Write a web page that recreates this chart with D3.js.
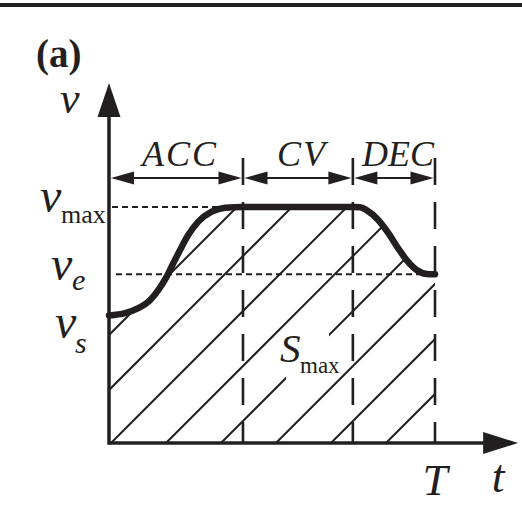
<!DOCTYPE html>
<html>
<head>
<meta charset="utf-8">
<script src="https://cdn.jsdelivr.net/npm/d3@7"></script>
<style>
  html, body { margin: 0; padding: 0; background: #fff; }
  svg { display: block; }
  text { font-family: "Liberation Serif", "Times New Roman", serif; fill: #231f20; }
</style>
</head>
<body>
<div id="chart"></div>
<script>
// ---- data (t normalised so that T = 1, v normalised so that v_max = 1) ----
const phases = ["ACC", "CV", "DEC"];
const phaseBounds = [0, 0.411, 0.748, 1.0];
const vMax = 1.0;
const vE = 0.715;
const vS = 0.540;
const curveT = [0, 0.049, 0.090, 0.121, 0.151, 0.177, 0.192, 0.218, 0.243, 0.274, 0.315, 0.356, 0.411,
                0.748, 0.770, 0.790, 0.826, 0.857, 0.887, 0.913, 0.944, 0.975, 1.0];
const curveV = [0.540, 0.550, 0.571, 0.599, 0.648, 0.705, 0.747, 0.818, 0.881, 0.938, 0.980, 0.997, 1.0,
                1.0, 0.999, 0.987, 0.945, 0.889, 0.825, 0.775, 0.733, 0.716, 0.715];
const tAxisEnd = 1.255;
const vAxisEnd = 1.525;
const hatchSpacing = 0.1687; // in t units

const W = 522, H = 527;
const ink = "#231f20";
const svg = d3.select("#chart").append("svg").attr("width", W).attr("height", H);

const x = d3.scaleLinear().domain([0, 1]).range([109, 435]);
const y = d3.scaleLinear().domain([0, 1]).range([443, 207]);

// top rule
svg.append("rect").attr("x", 0).attr("y", 3).attr("width", W).attr("height", 4).attr("fill", ink);

// panel label
svg.append("text").attr("x", 36).attr("y", 67).attr("font-size", 39).attr("font-weight", "bold").text("(a)");

const pts = curveT.map((t, i) => [t, curveV[i]]);

// clip area under curve
const area = d3.area().x(d => x(d[0])).y0(y(0)).y1(d => y(d[1])).curve(d3.curveMonotoneX);
svg.append("clipPath").attr("id", "under").append("path").datum(pts).attr("d", area);

// hatching (45 deg lines)
const hatchG = svg.append("g").attr("clip-path", "url(#under)");
const step = x(hatchSpacing) - x(0);
const x0base = x(0) + 2;
for (let k = -8; k <= 6; k++) {
  const x0 = x0base + k * step;
  hatchG.append("line")
    .attr("x1", x0).attr("y1", y(0))
    .attr("x2", x0 + 420).attr("y2", y(0) - 420)
    .attr("stroke", ink).attr("stroke-width", 2);
}

// gap behind S_max label
svg.append("rect").attr("x", 286).attr("y", 333).attr("width", 43).attr("height", 47).attr("fill", "#fff");

// vertical dashed phase boundaries
phaseBounds.slice(1).forEach(t => {
  svg.append("line").attr("x1", x(t)).attr("x2", x(t)).attr("y1", 158).attr("y2", y(0))
    .attr("stroke", ink).attr("stroke-width", 2.6).attr("stroke-dasharray", "27 17");
});

// horizontal dashed reference lines
svg.append("line").attr("x1", x(0) + 3).attr("x2", x(phaseBounds[1])).attr("y1", y(vMax)).attr("y2", y(vMax))
  .attr("stroke", ink).attr("stroke-width", 2).attr("stroke-dasharray", "6 4");
svg.append("line").attr("x1", x(0) + 7).attr("x2", x(1)).attr("y1", y(vE)).attr("y2", y(vE))
  .attr("stroke", ink).attr("stroke-width", 2).attr("stroke-dasharray", "6 4");

// velocity curve
const line = d3.line().x(d => x(d[0])).y(d => y(d[1])).curve(d3.curveMonotoneX);
svg.append("path").datum(pts).attr("d", line).attr("fill", "none")
  .attr("stroke", ink).attr("stroke-width", 6.5).attr("stroke-linecap", "round");

// axes
const xEnd = x(tAxisEnd), yTop = y(vAxisEnd);
svg.append("line").attr("x1", x(0)).attr("x2", xEnd - 30).attr("y1", y(0)).attr("y2", y(0))
  .attr("stroke", ink).attr("stroke-width", 3.5);
svg.append("path").attr("d", `M${xEnd},${y(0)} L${xEnd - 35},${y(0) - 11} L${xEnd - 35},${y(0) + 11} Z`).attr("fill", ink);
svg.append("line").attr("x1", x(0)).attr("x2", x(0)).attr("y1", y(0) + 1.75).attr("y2", yTop + 30)
  .attr("stroke", ink).attr("stroke-width", 3.5);
svg.append("path").attr("d", `M${x(0)},${yTop} L${x(0) - 11.5},${yTop + 34} L${x(0) + 11.5},${yTop + 34} Z`).attr("fill", ink);

// dimension arrows
const dimY = 178;
function arrowHead(tipX, dir) {
  const L = 23, h = 6.5;
  svg.append("path").attr("d", `M${tipX},${dimY} L${tipX + dir * L},${dimY - h} L${tipX + dir * L},${dimY + h} Z`).attr("fill", ink);
}
phases.forEach((p, i) => {
  const a = x(phaseBounds[i]) + (i === 0 ? 2 : 1.5), b = x(phaseBounds[i + 1]) - 1.5;
  svg.append("line").attr("x1", a + 10).attr("x2", b - 10).attr("y1", dimY).attr("y2", dimY)
    .attr("stroke", ink).attr("stroke-width", 2);
  arrowHead(a, 1);
  arrowHead(b, -1);
  svg.append("text").attr("x", (x(phaseBounds[i]) + x(phaseBounds[i + 1])) / 2 + 4).attr("y", 166)
    .attr("text-anchor", "middle").attr("font-size", 36).attr("font-style", "italic")
    .attr("letter-spacing", i === 2 ? 0 : 2).text(p);
});

// axis labels
svg.append("text").attr("x", 60).attr("y", 113).attr("font-size", 44).attr("font-style", "italic").text("v");
svg.append("text").attr("x", x(tAxisEnd) - 20).attr("y", 492).attr("text-anchor", "middle")
  .attr("font-size", 46).attr("font-style", "italic").text("t");
svg.append("text").attr("x", x(1)).attr("y", 495).attr("text-anchor", "middle")
  .attr("font-size", 45).attr("font-style", "italic").text("T");

// value labels
function subLabel(xv, yv, sub, subDx, subDy, subItalic, subSize) {
  const t = svg.append("text").attr("x", xv).attr("y", yv);
  t.append("tspan").attr("font-size", 48).attr("font-style", "italic").text("v");
  t.append("tspan").attr("x", xv + subDx).attr("y", yv + subDy).attr("font-size", subSize)
    .attr("font-style", subItalic ? "italic" : "normal").text(sub);
}
subLabel(40, y(vMax) + 5, "max", 21, 11, false, 26);
subLabel(51, y(vE) + 6, "e", 21, 10, true, 30);
subLabel(55, y(vS) + 22, "s", 20, 15, true, 30);

// S_max
const s = svg.append("text").attr("x", 280).attr("y", 362);
s.append("tspan").attr("font-size", 41).attr("font-style", "italic").text("S");
s.append("tspan").attr("x", 300).attr("y", 373).attr("font-size", 23).text("max");
</script>
</body>
</html>
